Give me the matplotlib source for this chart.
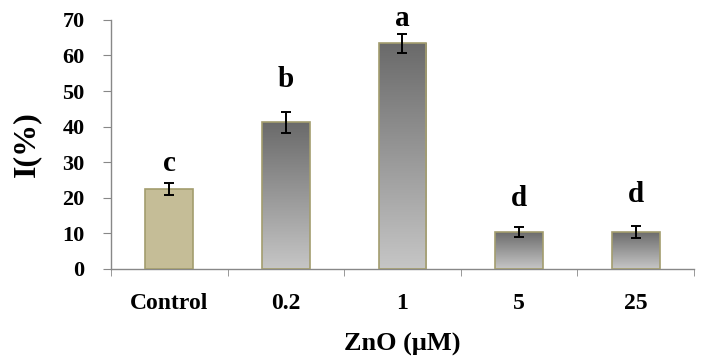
import numpy as np
import matplotlib
matplotlib.use("Agg")
import matplotlib.pyplot as plt
from matplotlib.colors import LinearSegmentedColormap

# data
groups = ['Control', '0.2', '1', '5', '25']
values = [22.5, 41.2, 63.4, 10.4, 10.4]
errors = [1.7, 3.0, 2.7, 1.5, 1.6]
letters = ['c', 'b', 'a', 'd', 'd']
letter_y = [25.8, 49.5, 66.6, 15.9, 17.2]

plt.rcParams['font.family'] = ['Liberation Serif', 'DejaVu Serif']
plt.rcParams['font.weight'] = 'bold'

fig = plt.figure(figsize=(7.11, 3.61), dpi=100)
ax = fig.add_axes([0.156, 0.255, 0.82, 0.69])

x = np.arange(len(groups))
width = 0.41
bars = ax.bar(x, values, width=width, color='none', edgecolor='#a39d6e', linewidth=1.2, zorder=3)

grad = LinearSegmentedColormap.from_list('g', ['#c6c6c6', '#6a6a6a'])
for i, b in enumerate(bars):
    if i == 0:
        b.set_facecolor('#c5bd97')
        continue
    x0, w, h = b.get_x(), b.get_width(), b.get_height()
    img = np.linspace(0, 1, 256).reshape(-1, 1)
    im = ax.imshow(img, cmap=grad, origin='lower', aspect='auto',
                   extent=[x0, x0 + w, 0, h], zorder=2)
    im.set_clip_path(b)

ax.errorbar(x, values, yerr=errors, fmt='none', ecolor='black', elinewidth=1.4,
            capsize=3.5, capthick=1.4, zorder=4)

for xi, lab, ly in zip(x, letters, letter_y):
    ax.text(xi, ly, lab, ha='center', va='bottom', fontsize=21, fontweight='bold')

ax.set_xlim(-0.5, len(groups) - 0.5)
ax.set_ylim(0, 70)
ax.set_yticks(range(0, 71, 10))
ax.set_xticks(x)
ax.set_xticklabels(groups, fontsize=17, fontweight='bold')
ax.set_xticks(np.arange(-0.5, len(groups)), minor=True)
ax.tick_params(axis='x', which='major', length=0, pad=17)
ax.tick_params(axis='x', which='minor', length=5, color='#888888', direction='out')
ax.tick_params(axis='y', labelsize=16, length=6, color='#888888', pad=13)
for t in ax.get_yticklabels():
    t.set_fontweight('bold')

for s in ['top', 'right']:
    ax.spines[s].set_visible(False)
for s in ['left', 'bottom']:
    ax.spines[s].set_color('#888888')
    ax.spines[s].set_linewidth(1.0)

ax.set_ylabel('I(%)', fontsize=23, fontweight='bold', labelpad=15)
ax.set_xlabel('ZnO (μM)', fontsize=19, fontweight='bold', labelpad=14)

fig.savefig('out.png', dpi=100)
